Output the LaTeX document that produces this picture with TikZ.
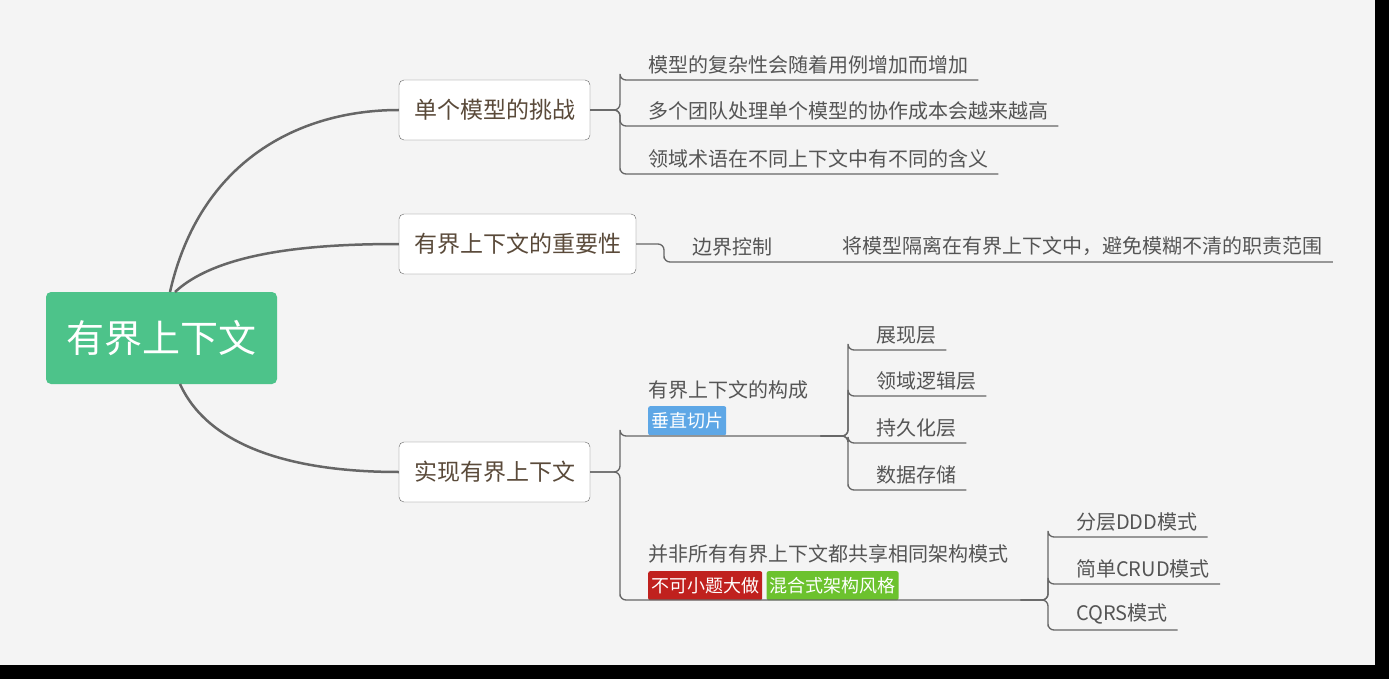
\documentclass[tikz,border=0pt]{standalone}
\usepackage{fontspec}
\setmainfont{Noto Sans CJK SC}
\usetikzlibrary{positioning}
\definecolor{bgc}{HTML}{F4F4F4}
\definecolor{rootc}{HTML}{4DC38A}
\definecolor{linec}{HTML}{666666}
\definecolor{txtc}{HTML}{555555}
\definecolor{brc}{HTML}{5A4A3A}
\definecolor{bluetag}{HTML}{5EA7E6}
\definecolor{redtag}{HTML}{C0211E}
\definecolor{greentag}{HTML}{6CC22E}
\tikzset{
  root/.style={fill=rootc,rounded corners=5,text=white,font=\fontsize{38}{42}\selectfont,minimum width=231,minimum height=92},
  branch/.style={draw=linec,fill=white,rounded corners=5,text=brc,font=\fontsize{23}{27}\selectfont,minimum height=60,inner xsep=14},
  leaf/.style={anchor=south west,inner xsep=0,inner ysep=6,text=txtc,font=\fontsize{20}{24}\selectfont},
  tagged/.style={leaf,align=left,inner ysep=0,text depth=38},
  tag/.style={anchor=north west,rounded corners=2,text=white,inner sep=3,minimum height=29,font=\fontsize{18}{21}\selectfont},
  conn/.style={draw=linec,line width=1.3,rounded corners=6},
  curve/.style={draw=linec,line width=2.5}
}
\newcommand{\lt}[1]{\hspace*{28pt}#1\hspace*{10pt}}
\begin{document}
\begin{tikzpicture}[x=1pt,y=-1pt]
\fill[black] (0,0) rectangle (1389,679);
\fill[bgc] (0,0) rectangle (1375,665);
\useasboundingbox (0,0) rectangle (1389,679);

\node[root] (root) at (161.5,338) {有界上下文};
\node[branch,minimum width=191] (b1) at (494.5,110) {单个模型的挑战};
\node[branch,minimum width=237] (b2) at (517.5,244) {有界上下文的重要性};
\node[branch,minimum width=191] (b3) at (494.5,472) {实现有界上下文};

\draw[curve] (170,292) .. controls (200,160) and (300,110) .. (b1.west);
\draw[curve] (175,292) .. controls (220,250) and (320,244) .. (b2.west);
\draw[curve] (180,384) .. controls (210,450) and (300,472) .. (b3.west);

% single model challenges
\node[leaf] (l11) at (620,80) {\lt{模型的复杂性会随着用例增加而增加}};
\node[leaf] (l12) at (620,126) {\lt{多个团队处理单个模型的协作成本会越来越高}};
\node[leaf] (l13) at (620,174) {\lt{领域术语在不同上下文中有不同的含义}};
\foreach \n in {l11,l12,l13}
  \draw[conn] (b1.east) -- (620,110) |- (\n.south west) -- (\n.south east);

% importance
\node[leaf] (l21) at (664,262) {\lt{边界控制}\hspace*{32pt}};
\node[leaf] (l22) at (l21.south east) {\lt{将模型隔离在有界上下文中，避免模糊不清的职责范围}};
\draw[conn] (b2.east) -- (664,244) |- (l21.south west) -- (l22.south east);

% implementation
\node[tagged,text width=200] (l31) at (620,436) {\lt{有界上下文的构成}};
\node[tag,fill=bluetag] (t1) at (648,406) {垂直切片};
\node[tagged,text width=400] (l32) at (620,600) {\lt{并非所有有界上下文都共享相同架构模式}};
\node[tag,fill=redtag] (t2) at (648,571) {不可小题大做};
\node[tag,fill=greentag,right=4 of t2] (t3) {混合式架构风格};
\foreach \n in {l31,l32}
  \draw[conn] (b3.east) -- (620,472) |- (\n.south west) -- (\n.south east);

\node[leaf] (m1) at (848,350) {\lt{展现层}};
\node[leaf] (m2) at (848,396) {\lt{领域逻辑层}};
\node[leaf] (m3) at (848,443) {\lt{持久化层}};
\node[leaf] (m4) at (848,490) {\lt{数据存储}};
\foreach \n in {m1,m2,m3,m4}
  \draw[conn] (l31.south east) -- (848,436) |- (\n.south west) -- (\n.south east);

\node[leaf] (n1) at (1048,537) {\lt{分层DDD模式}};
\node[leaf] (n2) at (1048,584) {\lt{简单CRUD模式}};
\node[leaf] (n3) at (1048,630) {\lt{CQRS模式}};
\foreach \n in {n1,n2,n3}
  \draw[conn] (l32.south east) -- (1048,600) |- (\n.south west) -- (\n.south east);
\end{tikzpicture}
\end{document}
